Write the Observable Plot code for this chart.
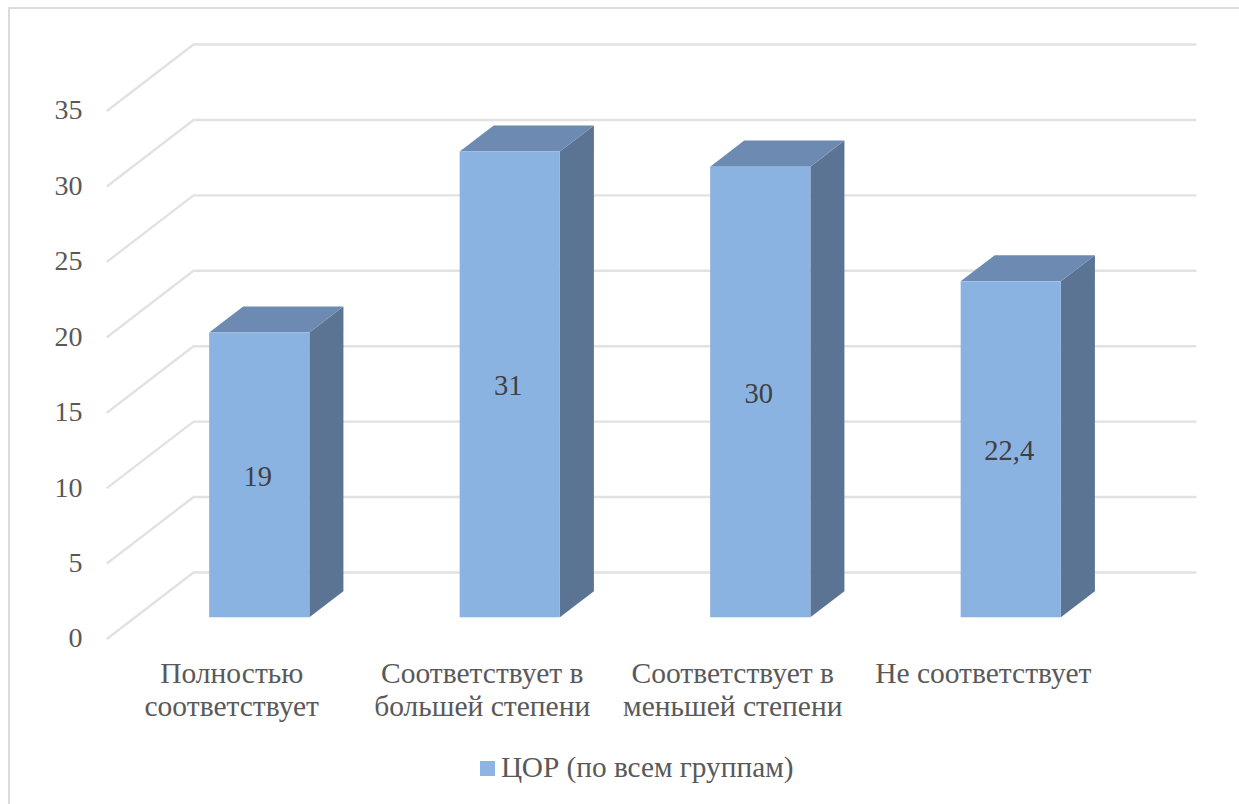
<!DOCTYPE html>
<html lang="ru">
<head>
<meta charset="utf-8">
<script src="https://cdn.jsdelivr.net/npm/d3@7"></script>
<script src="https://cdn.jsdelivr.net/npm/@observablehq/plot@0.6"></script>
<style>
  html, body { margin: 0; padding: 0; background: #fff; }
  #page { position: relative; width: 1239px; height: 804px; overflow: hidden; font-family: "Liberation Serif", serif; }
  #frame { position: absolute; left: 8px; top: 7px; right: -4px; bottom: -4px; border: 2px solid #dcdcdc; box-sizing: border-box; pointer-events: none; }
  #chart svg { display: block; }
  #legend { position: absolute; left: 0; top: 750px; width: 1239px; height: 36px; color: #595959; font-size: 29.3px; }
  #legend i { position: absolute; left: 480px; top: 11px; width: 15px; height: 15px; background: #8db4e2; }
  #legend span { position: absolute; left: 501px; top: 1px; white-space: nowrap; }
</style>
</head>
<body>
<div id="page">
  <div id="chart"></div>
  <div id="frame"></div>
  <div id="legend"></div>
</div>
<script>
const categories = ["Полностью\nсоответствует", "Соответствует в\nбольшей степени", "Соответствует в\nменьшей степени", "Не соответствует"];
const values = [19, 31, 30, 22.4];
const valueLabels = ["19", "31", "30", "22,4"];
const yTicks = [0, 5, 10, 15, 20, 25, 30, 35];
const seriesName = "ЦОР (по всем группам)";

// oblique projection of the chart's depth, in data units
const depthX = 86 / 250.5;
const depthY = 66 / 15.086;
const barFront = 0.314;
const barBack = 0.71;
const barHalf = 0.2;
const topDrop = 0.13;
const frontColor = "#8bb3e2", topColor = "#6c8ab2", sideColor = "#5b7494", gridColor = "#e2e2e2";

const bars = values.map((v, i) => ({ i, v: v - topDrop, cx: i + 0.5, label: valueLabels[i], name: categories[i] }));
const grid = yTicks.flatMap(t => [
  { t, x: 0, y: t },
  { t, x: depthX, y: t + depthY },
  { t, x: 4 + depthX, y: t + depthY }
]);
const sides = bars.flatMap(b => [
  { i: b.i, x: b.cx + barHalf + barFront * depthX, y1: barFront * depthY, y2: b.v + barFront * depthY },
  { i: b.i, x: b.cx + barHalf + barBack * depthX, y1: barBack * depthY, y2: b.v + barBack * depthY }
]);
const tops = bars.flatMap(b => [
  { i: b.i, y: b.v + barFront * depthY, x1: b.cx - barHalf + barFront * depthX, x2: b.cx + barHalf + barFront * depthX },
  { i: b.i, y: b.v + barBack * depthY, x1: b.cx - barHalf + barBack * depthX, x2: b.cx + barHalf + barBack * depthX }
]);

const plot = Plot.plot({
  width: 1239,
  height: 750,
  marginLeft: 107,
  marginRight: 130,
  marginTop: 110,
  marginBottom: 112,
  style: { background: "transparent", fontFamily: "Liberation Serif, serif", overflow: "visible" },
  x: { domain: [0, 4], range: [107, 1109], axis: null },
  y: { domain: [0, 35], range: [638, 110], label: null },
  marks: [
    Plot.axisY(yTicks, { anchor: "left", tickSize: 0, tickPadding: 25, fontSize: 28, color: "#595959", fill: "#595959", label: null }),
    Plot.line(grid, { x: "x", y: "y", z: "t", stroke: gridColor, strokeWidth: 2.4, curve: "linear" }),
    Plot.areaY(sides, { x: "x", y1: "y1", y2: "y2", z: "i", fill: sideColor }),
    Plot.areaX(tops, { y: "y", x1: "x1", x2: "x2", z: "i", fill: topColor }),
    Plot.rect(bars, {
      x1: d => d.cx - barHalf + barFront * depthX,
      x2: d => d.cx + barHalf + barFront * depthX,
      y1: barFront * depthY,
      y2: d => d.v + barFront * depthY,
      fill: frontColor
    }),
    Plot.text(bars, {
      x: d => d.cx + barFront * depthX,
      y: d => d.v / 2 + barFront * depthY,
      text: "label",
      fontSize: 28.5,
      fill: "#404040",
      dx: -2,
      dy: 1
    }),
    Plot.text(bars, {
      x: "cx",
      y: 0,
      text: "name",
      fontSize: 29.5,
      lineHeight: 1.12,
      lineAnchor: "top",
      dx: -1,
      dy: 21,
      fill: "#595959"
    })
  ]
});
document.getElementById("chart").append(plot);

const legend = document.getElementById("legend");
legend.innerHTML = "<i></i><span></span>";
legend.querySelector("span").textContent = seriesName;
</script>
</body>
</html>
